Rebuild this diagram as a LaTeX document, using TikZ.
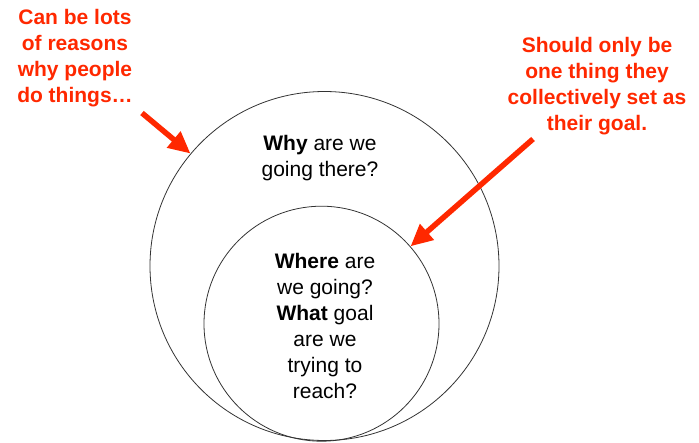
\documentclass[tikz,border=0pt]{standalone}
\usepackage{fontspec}
\setmainfont{Liberation Sans}
\usetikzlibrary{arrows.meta}
\definecolor{notered}{RGB}{255,40,0}

\begin{document}
\begin{tikzpicture}[x=1pt,y=-1pt,
  ring/.style={circle, draw=black!80, line width=0.8pt, inner sep=0pt},
  question/.style={align=center, font=\fontsize{21}{26}\selectfont},
  remark/.style={align=center, text=notered, font=\bfseries\fontsize{21}{26}\selectfont},
  pointer/.style={draw=notered, line width=5.5pt, -{Triangle[length=22pt,width=20pt]}}]
\useasboundingbox (0,0) rectangle (699,442);

% circles
\node[ring, minimum size=349pt] (outer) at (324.5,266) {};
\node[ring, minimum size=235pt] (inner) at (321.5,323.7) {};

% questions
\node[question] (why) at (320,158) {\textbf{Why} are we\\going there?};
\node[question] (where) at (325,326) {\textbf{Where} are\\we going?\\\textbf{What} goal\\are we\\trying to\\reach?};

% remarks
\node[remark] (reasons) at (75,58) {Can be lots\\of reasons\\why people\\do things\dots};
\node[remark] (goal) at (597,86) {Should only be\\one thing they\\collectively set as\\their goal.};

% arrows
\coordinate (reasonsTail) at (142,113);
\coordinate (goalTail) at (533,139);
\draw[pointer] (reasonsTail) -- (outer.140);
\draw[pointer] (goalTail) -- (inner.41);
\end{tikzpicture}
\end{document}
